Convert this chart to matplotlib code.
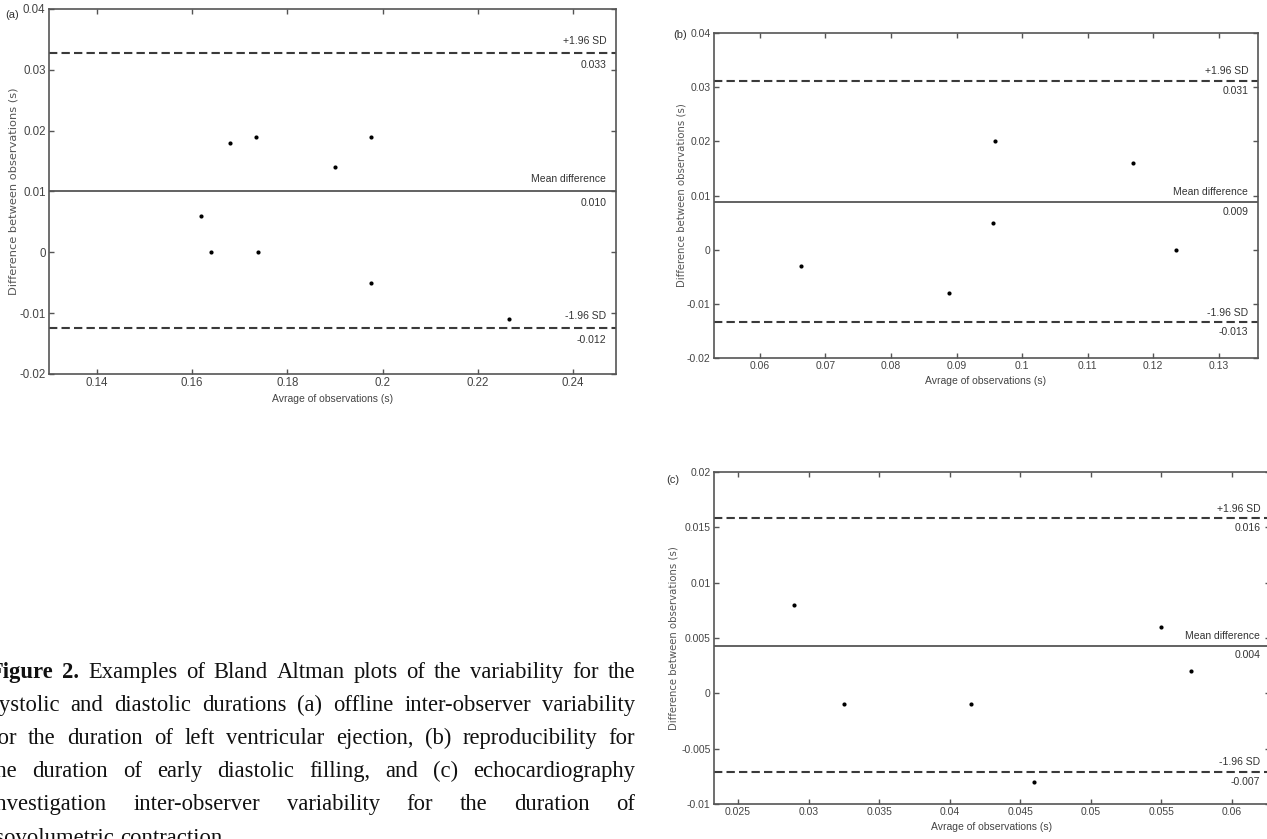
import matplotlib
matplotlib.use("Agg")
import matplotlib.pyplot as plt

# ---- data ----
# (a) offline inter-observer variability, LV ejection
avg_a = [0.1619, 0.1640, 0.1679, 0.1734, 0.1739, 0.1900, 0.1975, 0.1975, 0.2266]
diff_a = [0.006, 0.000, 0.018, 0.019, 0.000, 0.014, 0.019, -0.005, -0.011]
limits_a = [0.0328, 0.0101, -0.0124]          # +1.96 SD, mean, -1.96 SD
limit_labels_a = ["0.033", "0.010", "-0.012"]
xticks_a = [0.14, 0.16, 0.18, 0.20, 0.22, 0.24]
xticklabels_a = ["0.14", "0.16", "0.18", "0.2", "0.22", "0.24"]
yticks_a = [0.04, 0.03, 0.02, 0.01, 0.0, -0.01, -0.02]
yticklabels_a = ["0.04", "0.03", "0.02", "0.01", "0", "-0.01", "-0.02"]

# (b) reproducibility, early diastolic filling
avg_b = [0.0663, 0.0888, 0.0955, 0.0959, 0.1170, 0.1235]
diff_b = [-0.003, -0.008, 0.005, 0.020, 0.016, 0.000]
limits_b = [0.0311, 0.0088, -0.0134]
limit_labels_b = ["0.031", "0.009", "-0.013"]
xticks_b = [0.06, 0.07, 0.08, 0.09, 0.10, 0.11, 0.12, 0.13]
xticklabels_b = ["0.06", "0.07", "0.08", "0.09", "0.1", "0.11", "0.12", "0.13"]
yticks_b = yticks_a
yticklabels_b = yticklabels_a

# (c) echo inter-observer variability, isovolumetric contraction
avg_c = [0.0290, 0.0325, 0.0415, 0.0460, 0.0550, 0.0571]
diff_c = [0.008, -0.001, -0.001, -0.008, 0.006, 0.002]
limits_c = [0.0158, 0.0043, -0.0071]
limit_labels_c = ["0.016", "0.004", "-0.007"]
xticks_c = [0.025, 0.030, 0.035, 0.040, 0.045, 0.050, 0.055, 0.060]
xticklabels_c = ["0.025", "0.03", "0.035", "0.04", "0.045", "0.05", "0.055", "0.06"]
yticks_c = [0.02, 0.015, 0.01, 0.005, 0.0, -0.005, -0.01]
yticklabels_c = ["0.02", "0.015", "0.01", "0.005", "0", "-0.005", "-0.01"]

caption_lines = [
    "Figure 2. Examples of Bland Altman plots of the variability for the",
    "systolic and diastolic durations (a) offline inter-observer variability",
    "for the duration of left ventricular ejection, (b) reproducibility for",
    "the duration of early diastolic filling, and (c) echocardiography",
    "investigation inter-observer variability for the duration of",
    "isovolumetric contraction.",
]

W, H = 1267, 839
NARROW = ["Liberation Sans", "DejaVu Sans"]
fig = plt.figure(figsize=(W / 100, H / 100), dpi=100)


def px_box(left, top, right, bottom):
    return [left / W, 1 - bottom / H, (right - left) / W, (bottom - top) / H]


def bland_altman(box, x, y, lims, lim_labels, xlim, ylim, xt, xtl, yt, ytl,
                 tick_fs, ylab_fs, off, letter, letter_xy, ylab_x):
    ax = fig.add_axes(px_box(*box))
    ax.plot(x, y, "o", color="black", ms=3.0, mew=0)
    ax.axhline(lims[0], color="#3a3a3a", lw=1.5, ls=(0, (4, 2)))
    ax.axhline(lims[1], color="#555555", lw=1.3)
    ax.axhline(lims[2], color="#3a3a3a", lw=1.5, ls=(0, (4, 2)))
    tops = ["+1.96 SD", "Mean difference", "-1.96 SD"]
    for v, top, bot in zip(lims, tops, lim_labels):
        ax.annotate(top, xy=(1, v), xycoords=("axes fraction", "data"),
                    xytext=(-7, off), textcoords="offset points",
                    ha="right", va="center", fontsize=7.5,
                    family=NARROW, color="#333333")
        ax.annotate(bot, xy=(1, v), xycoords=("axes fraction", "data"),
                    xytext=(-7, -off), textcoords="offset points",
                    ha="right", va="center", fontsize=7.5,
                    family=NARROW, color="#333333")
    ax.set_xlim(*xlim)
    ax.set_ylim(*ylim)
    ax.set_xticks(xt)
    ax.set_xticklabels(xtl, family=NARROW)
    ax.set_yticks(yt)
    ax.set_yticklabels(ytl, family=NARROW)
    ax.tick_params(direction="in", top=True, right=True, length=3.5,
                   width=1.0, color="#555555", labelcolor="#444444",
                   labelsize=tick_fs, pad=2.5)
    for s in ax.spines.values():
        s.set_color("#555555")
        s.set_linewidth(1.2)
    ax.set_xlabel("Avrage of observations (s)", family=NARROW, fontsize=7.5,
                  color="#444444", labelpad=3)
    cy = (box[1] + box[3]) / 2
    fig.text(ylab_x / W, 1 - cy / H, "Difference between observations (s)",
             rotation=90, ha="center", va="center", fontsize=ylab_fs,
             color="#555555", family="DejaVu Sans")
    fig.text(letter_xy[0] / W, 1 - letter_xy[1] / H, letter, ha="center",
             va="center", fontsize=8, family=NARROW, color="#333333")
    return ax


bland_altman((49, 9, 616, 374), avg_a, diff_a, limits_a, limit_labels_a,
             (0.130, 0.249), (-0.02, 0.04), xticks_a, xticklabels_a,
             yticks_a, yticklabels_a, 8.3, 8.2, 8.6, "(a)", (12, 15), 14)
bland_altman((714, 33, 1258, 358), avg_b, diff_b, limits_b, limit_labels_b,
             (0.053, 0.136), (-0.02, 0.04), xticks_b, xticklabels_b,
             yticks_b, yticklabels_b, 7.5, 7.3, 7.0, "(b)", (680, 35), 681)
bland_altman((714, 472, 1270, 804), avg_c, diff_c, limits_c, limit_labels_c,
             (0.0233, 0.0627), (-0.01, 0.02), xticks_c, xticklabels_c,
             yticks_c, yticklabels_c, 7.5, 7.3, 7.0, "(c)", (673, 480), 674)

# ---- justified caption, clipped at the left edge like the scan ----
renderer = fig.canvas.get_renderer()
cap_fs = 16.3
x0, x1 = -10, 635
baselines = [678, 711, 744, 777, 810, 844]
for i, (line, yb) in enumerate(zip(caption_lines, baselines)):
    words = line.split()
    texts = []
    for j, w in enumerate(words):
        bold = (i == 0 and j < 2)
        t = fig.text(0, 1 - yb / H, w, fontsize=cap_fs, family="Liberation Serif",
                     fontweight="bold" if bold else "normal", color="#111111",
                     va="baseline", ha="left")
        texts.append(t)
    widths = [t.get_window_extent(renderer).width for t in texts]
    if i < len(caption_lines) - 1:
        gap = (x1 - x0 - sum(widths)) / (len(words) - 1)
    else:
        gap = 0.25 * cap_fs * 100 / 72
    x = x0
    for t, w in zip(texts, widths):
        t.set_x(x / W)
        x += w + gap

fig.savefig("out.png", dpi=100)
